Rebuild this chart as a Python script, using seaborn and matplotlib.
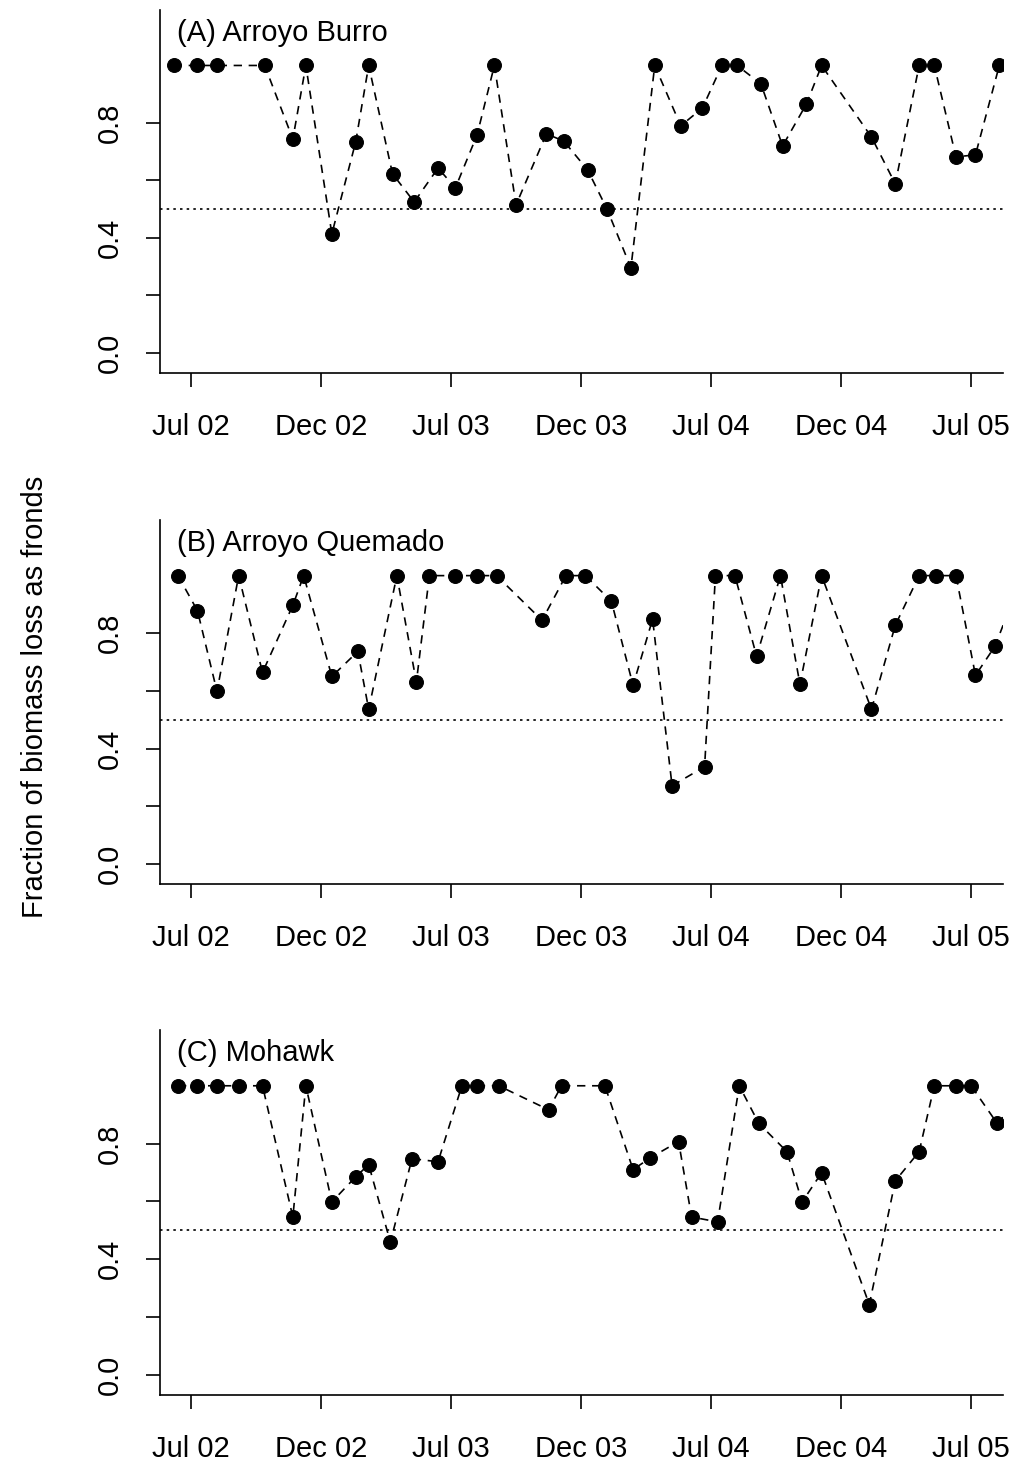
import matplotlib
matplotlib.use("Agg")
import matplotlib.pyplot as plt
import seaborn as sns
import pandas as pd

sns.set_style("white")
plt.rcParams['font.family'] = ['Liberation Sans', 'DejaVu Sans']
plt.rcParams['text.color'] = 'black'
plt.rcParams['xtick.color'] = 'black'
plt.rcParams['ytick.color'] = 'black'

# x: months since 1 Jul 2002
a_x = [-0.8,0.3,1.2,3.4,4.7,5.3,6.5,7.6,8.2,9.3,10.3,11.4,12.2,13.2,14.0,15.0,16.4,17.2,18.3,19.2,20.3,21.4,22.6,23.6,24.5,25.2,26.3,27.3,28.4,29.1,31.4,32.5,33.6,34.3,35.3,36.2,37.3]
a_y = [1,1,1,1,0.744,1,0.414,0.734,1,0.623,0.525,0.643,0.574,0.758,1,0.515,0.762,0.737,0.637,0.50,0.296,1,0.79,0.852,1,1,0.936,0.72,0.866,1,0.751,0.588,1,1,0.682,0.689,1]
b_x = [-0.6,0.3,1.2,2.2,3.3,4.7,5.2,6.5,7.7,8.2,9.5,10.4,11.0,12.2,13.2,14.1,16.2,17.3,18.2,19.4,20.4,21.3,22.2,23.7,24.2,25.1,26.1,27.2,28.1,29.1,31.4,32.5,33.6,34.4,35.3,36.2,37.1,38.0]
b_y = [1,0.878,0.598,1,0.664,0.897,1,0.650,0.737,0.536,1,0.630,1,1,1,1,0.845,1,1,0.911,0.619,0.849,0.271,0.337,1,1,0.72,1,0.623,1,0.536,0.828,1,1,1,0.654,0.755,0.93]
c_x = [-0.6,0.3,1.2,2.2,3.3,4.7,5.3,6.5,7.6,8.2,9.2,10.2,11.4,12.5,13.2,14.2,16.5,17.1,19.1,20.4,21.2,22.5,23.1,24.3,25.3,26.2,27.5,28.2,29.1,31.3,32.5,33.6,34.3,35.3,36.0,37.2,38.0]
c_y = [1,1,1,1,1,0.546,1,0.598,0.685,0.727,0.459,0.748,0.737,1,1,1,0.917,1,1,0.710,0.751,0.807,0.546,0.529,1,0.870,0.772,0.598,0.699,0.243,0.671,0.772,1,1,1,0.870,0.93]

titles = ["(A) Arroyo Burro", "(B) Arroyo Quemado", "(C) Mohawk"]
tick_pos = [0, 6, 12, 18, 24, 30, 36]
tick_lab = ["Jul 02", "Dec 02", "Jul 03", "Dec 03", "Jul 04", "Dec 04", "Jul 05"]

fig = plt.figure(figsize=(10.21, 14.68), dpi=100)
boxes = [(10, 373), (520, 884), (1030, 1395)]
L, R = 160/1021, 1003/1021
for (top, bot), xs, ys, t in zip(boxes, [a_x, b_x, c_x], [a_y, b_y, c_y], titles):
    ax = fig.add_axes([L, 1-bot/1468, R-L, (bot-top)/1468])
    df = pd.DataFrame({"x": xs, "y": ys})
    sns.lineplot(data=df, x="x", y="y", ax=ax, color="black", linestyle=(0, (5, 4)), lw=1.2,
                 marker="o", markersize=10, markeredgecolor="black", markerfacecolor="black", clip_on=True)
    ax.axhline(0.5, color="black", linestyle=(0, (1.5, 2.5)), lw=1.2)
    ax.set_xlim(-1.43, 37.47)
    ax.set_ylim(-0.07, 1.193)
    ax.set_xticks(tick_pos)
    ax.set_xticklabels(tick_lab, fontsize=21)
    ax.set_yticks([0, 0.2, 0.4, 0.6, 0.8])
    ax.set_yticklabels(["0.0", "", "0.4", "", "0.8"], fontsize=21, rotation=90, va="center")
    ax.set_xlabel(""); ax.set_ylabel("")
    for s in ["top", "right"]:
        ax.spines[s].set_visible(False)
    for s in ["left", "bottom"]:
        ax.spines[s].set_color("black"); ax.spines[s].set_linewidth(1.2)
    ax.tick_params(direction="out", length=10, width=1.2, color="black", left=True, bottom=True)
    ax.tick_params(axis="x", pad=19)
    ax.tick_params(axis="y", pad=16)
    ax.text(0.02, 0.975, t, transform=ax.transAxes, fontsize=21, va="top", ha="left")

fig.text(35/1021, 0.525, "Fraction of biomass loss as fronds", rotation=90, fontsize=21, ha="center", va="center")
fig.savefig("out.png", dpi=100)
